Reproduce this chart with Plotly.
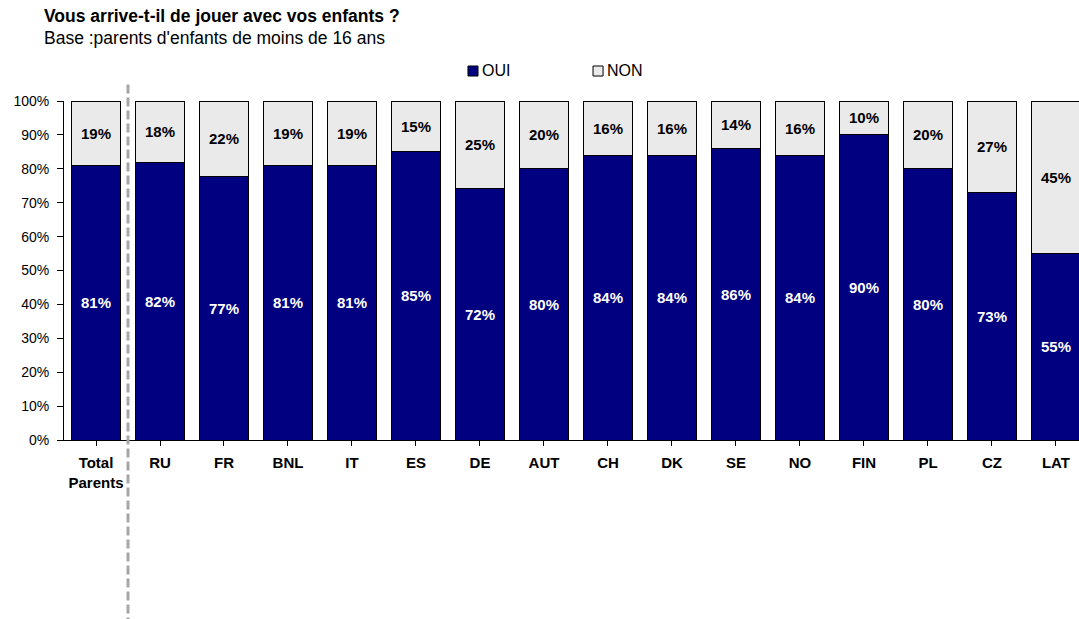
import plotly.graph_objects as go

# Survey answers per country (percent of respondents)
categories = ["Total<br>Parents", "RU", "FR", "BNL", "IT", "ES", "DE", "AUT",
              "CH", "DK", "SE", "NO", "FIN", "PL", "CZ", "LAT"]
oui = [81, 82, 77, 81, 81, 85, 72, 80, 84, 84, 86, 84, 90, 80, 73, 55]
non = [19, 18, 22, 19, 19, 15, 25, 20, 16, 16, 14, 16, 10, 20, 27, 45]
y_ticks = [0, 10, 20, 30, 40, 50, 60, 70, 80, 90, 100]

FONT = "Arial, Liberation Sans, sans-serif"
OUI_COLOR = "#000080"
NON_COLOR = "#EAEAEA"
x_idx = list(range(len(categories)))

fig = go.Figure()
fig.add_trace(go.Bar(
    x=x_idx, y=oui, name="OUI",
    marker=dict(color=OUI_COLOR, line=dict(color="black", width=1)),
    text=[f"{v}%" for v in oui], texttemplate="%{text}",
    textposition="inside", insidetextanchor="middle", constraintext="none",
    textfont=dict(color="white", size=15, family=FONT, weight="bold"),
))
fig.add_trace(go.Bar(
    x=x_idx, y=non, name="NON",
    marker=dict(color=NON_COLOR, line=dict(color="black", width=1)),
    text=[f"{v}%" for v in non], texttemplate="%{text}",
    textposition="inside", insidetextanchor="middle", constraintext="none",
    textfont=dict(color="black", size=15, family=FONT, weight="bold"),
))

# Separator between the total and the individual countries
fig.add_shape(type="line", xref="x", yref="paper", x0=0.5, x1=0.5,
              y0=-0.55, y1=1.056,
              line=dict(color="#A6A6A6", width=3, dash="9px,4px"))

# Title and subtitle
fig.add_annotation(text="<b>Vous arrive-t-il de jouer avec vos enfants ?</b>",
                   xref="paper", yref="paper", x=-0.0217, y=1.2507,
                   xanchor="left", yanchor="middle", showarrow=False,
                   font=dict(size=17.5, family=FONT, color="black"))
fig.add_annotation(text="Base :parents d'enfants de moins de 16 ans",
                   xref="paper", yref="paper", x=-0.0217, y=1.1858,
                   xanchor="left", yanchor="middle", showarrow=False,
                   font=dict(size=17.5, family=FONT, color="black"))

# Legend: small outlined squares followed by the series names
legend_items = [("OUI", OUI_COLOR, 0.398), ("NON", NON_COLOR, 0.5212)]
for label, color, x0 in legend_items:
    fig.add_shape(type="rect", xref="paper", yref="paper",
                  x0=x0, x1=x0 + 0.0099, y0=1.0737, y1=1.1032,
                  fillcolor=color, line=dict(color="black", width=1))
    fig.add_annotation(text=label, xref="paper", yref="paper",
                       x=x0 + 0.0118, y=1.0885, xanchor="left",
                       yanchor="middle", showarrow=False,
                       font=dict(size=16, family=FONT, color="black"))

fig.update_layout(
    barmode="stack", barnorm="percent", bargap=0.234,
    width=1079, height=619,
    margin=dict(l=64, r=0, t=101, b=179),
    paper_bgcolor="white", plot_bgcolor="white",
    font=dict(family=FONT, size=14, color="black"),
    showlegend=False,
    xaxis=dict(tickmode="array", tickvals=x_idx,
               ticktext=[f"<b>{c}</b>" for c in categories],
               range=[-0.5, 15.36], showline=True, linecolor="black",
               linewidth=1, ticks="outside", tickson="boundaries",
               ticklen=5, tickcolor="black", showgrid=False,
               ticklabelstandoff=4,
               tickfont=dict(size=15, family=FONT)),
    yaxis=dict(range=[0, 100], tickvals=y_ticks,
               ticktext=[f"{v}%" for v in y_ticks],
               showline=True, linecolor="black", linewidth=1,
               ticks="outside", ticklen=6, tickcolor="black",
               ticklabelstandoff=5,
               showgrid=False, zeroline=False,
               tickfont=dict(size=14, family=FONT)),
)

fig.write_html("out.html")
